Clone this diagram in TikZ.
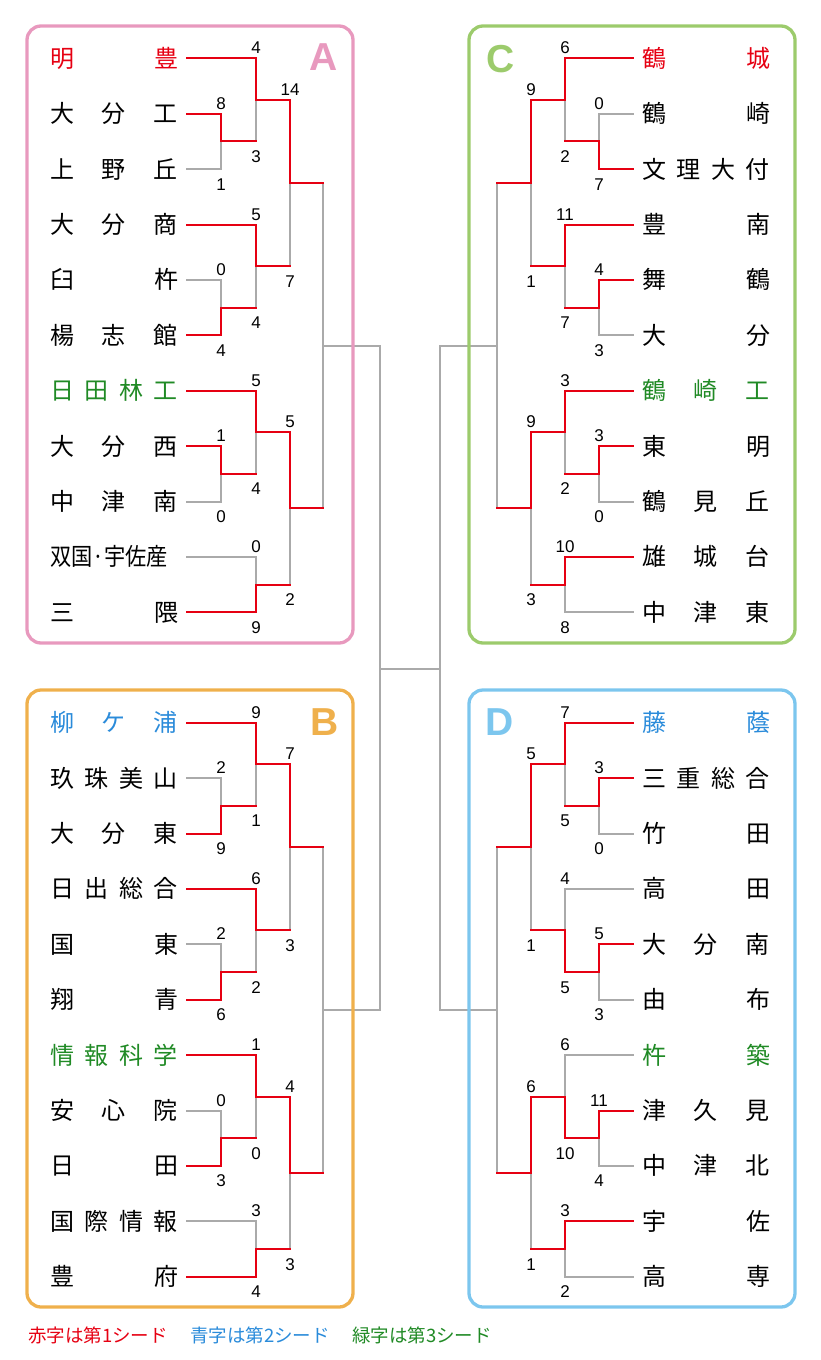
\documentclass[tikz,border=0pt]{standalone}
\usepackage{fontspec}
\setmainfont{Liberation Sans}
\newfontfamily\jpfont{Noto Sans CJK JP}
\definecolor{winred}{HTML}{E60012}
\definecolor{lgray}{HTML}{AAAAAA}
\definecolor{seedblue}{HTML}{2A8BDA}
\definecolor{seedgreen}{HTML}{208A25}
\definecolor{boxpink}{HTML}{E899BE}
\definecolor{boxorange}{HTML}{EFB04C}
\definecolor{boxgreen}{HTML}{9CCB6C}
\definecolor{boxblue}{HTML}{7CC6EE}
\pgfdeclarelayer{back}
\pgfsetlayers{back,main}
\tikzset{
  win/.style={draw=winred, line width=2pt, line cap=rect},
  lose/.style={draw=lgray, line width=2pt, line cap=rect},
  score/.style={font=\fontsize{17}{17}\selectfont, inner sep=0, anchor=base},
  teamname/.style={font=\jpfont\fontsize{24}{24}\selectfont, inner sep=0, anchor=base},
  frame/.style={line width=3.3pt, rounded corners=14pt},
  letter/.style={font=\fontsize{39}{39}\selectfont\bfseries, inner sep=0},
  legend/.style={font=\jpfont\fontsize{18.5}{18.5}\selectfont, inner sep=0, anchor=west},
}
% block geometry
\newcommand\setblock[2]{%
  \if#1L\def\Xa{187}\def\Xb{221}\def\Xc{256}\def\Xd{290}\def\Xe{323}\def\Nx{114}%
  \else\def\Xa{633}\def\Xb{599}\def\Xc{565}\def\Xd{531}\def\Xe{497}\def\Nx{706}\fi
  \pgfmathsetmacro\RowA{58.3+#2}%
  \pgfmathsetmacro\RowB{113.7+#2}%
  \pgfmathsetmacro\RowC{169.1+#2}%
  \pgfmathsetmacro\RowD{224.5+#2}%
  \pgfmathsetmacro\RowE{279.9+#2}%
  \pgfmathsetmacro\RowF{335.3+#2}%
  \pgfmathsetmacro\RowG{390.7+#2}%
  \pgfmathsetmacro\RowH{446.1+#2}%
  \pgfmathsetmacro\RowI{501.5+#2}%
  \pgfmathsetmacro\RowJ{556.9+#2}%
  \pgfmathsetmacro\RowK{612.3+#2}%
  \pgfmathsetmacro\JBC{(\RowB+\RowC)/2}%
  \pgfmathsetmacro\JA{(\RowA+\JBC)/2}%
  \pgfmathsetmacro\JEF{(\RowE+\RowF)/2}%
  \pgfmathsetmacro\JD{(\RowD+\JEF)/2}%
  \pgfmathsetmacro\JT{(\JA+\JD)/2}%
  \pgfmathsetmacro\JHI{(\RowH+\RowI)/2}%
  \pgfmathsetmacro\JG{(\RowG+\JHI)/2}%
  \pgfmathsetmacro\JJK{(\RowJ+\RowK)/2}%
  \pgfmathsetmacro\JB{(\JG+\JJK)/2}%
  \pgfmathsetmacro\JF{(\JT+\JB)/2}%
}
% team: y, first vertical x, text, colour, line style, name
\newcommand\team[6]{%
  \node[teamname, text=#4] (#6) at (\Nx,#1+9) {\hbox to 128pt{#3}};%
  \begin{pgfonlayer}{back}\draw[#5] (\Xa,#1) -- (#2,#1);\end{pgfonlayer}%
}
% match: x, next x, top y, bottom y, top score, bottom score, winner t/b, name
\newcommand\mt[8]{%
  \pgfmathsetmacro\ym{(#3+#4)/2}%
  \coordinate (#8) at (#1,\ym);%
  \if#7t%
    \begin{pgfonlayer}{back}\draw[lose] (#1,#4) -- (#8);\end{pgfonlayer}%
    \draw[win] (#1,#3) -- (#8);%
  \else
    \begin{pgfonlayer}{back}\draw[lose] (#1,#3) -- (#8);\end{pgfonlayer}%
    \draw[win] (#1,#4) -- (#8);%
  \fi
  \draw[win] (#8) -- (#2,\ym);%
  \node[score] (#8-t) at (#1,#3-4.5) {#5};%
  \node[score] (#8-b) at (#1,#4+21) {#6};%
}
\newcommand\finalgray[1]{%
  \begin{pgfonlayer}{back}\draw[lose] (\Xe,\JT) -- (\Xe,\JB);\end{pgfonlayer}%
  \coordinate (#1) at (\Xe,\JF);%
}
\begin{document}
\begin{tikzpicture}[x=1pt,y=-1pt]
\useasboundingbox (0,0) rectangle (820,1360);
% frames
\draw[frame, draw=boxpink] (27,26) rectangle (353,643);
\draw[frame, draw=boxorange] (27,690) rectangle (353,1307);
\draw[frame, draw=boxgreen] (469,26) rectangle (795,643);
\draw[frame, draw=boxblue] (469,690) rectangle (795,1307);
\node[letter, text=boxpink] (LA) at (324,57) {A};
\node[letter, text=boxorange] (LB) at (325,722) {B};
\node[letter, text=boxgreen] (LC) at (501,59) {C};
\node[letter, text=boxblue] (LD) at (500,722) {D};

% ---------- A ----------
\setblock{L}{0}
\team{\RowA}{\Xc}{明\hfill 豊}{winred}{win}{A1}
\team{\RowB}{\Xb}{大\hfill 分\hfill 工}{black}{win}{A2}
\team{\RowC}{\Xb}{上\hfill 野\hfill 丘}{black}{lose}{A3}
\team{\RowD}{\Xc}{大\hfill 分\hfill 商}{black}{win}{A4}
\team{\RowE}{\Xb}{臼\hfill 杵}{black}{lose}{A5}
\team{\RowF}{\Xb}{楊\hfill 志\hfill 館}{black}{win}{A6}
\team{\RowG}{\Xc}{日\hfill 田\hfill 林\hfill 工}{seedgreen}{win}{A7}
\team{\RowH}{\Xb}{大\hfill 分\hfill 西}{black}{win}{A8}
\team{\RowI}{\Xb}{中\hfill 津\hfill 南}{black}{lose}{A9}
\team{\RowJ}{\Xc}{\scalebox{0.885}[1]{双国·宇佐産}\hfill}{black}{lose}{A10}
\team{\RowK}{\Xc}{三\hfill 隈}{black}{win}{A11}
\finalgray{A-f}
\mt{\Xb}{\Xc}{\RowB}{\RowC}{8}{1}{t}{A-m1}
\mt{\Xc}{\Xd}{\RowA}{\JBC}{4}{3}{t}{A-m2}
\mt{\Xb}{\Xc}{\RowE}{\RowF}{0}{4}{b}{A-m3}
\mt{\Xc}{\Xd}{\RowD}{\JEF}{5}{4}{t}{A-m4}
\mt{\Xd}{\Xe}{\JA}{\JD}{14}{7}{t}{A-m5}
\mt{\Xb}{\Xc}{\RowH}{\RowI}{1}{0}{t}{A-m6}
\mt{\Xc}{\Xd}{\RowG}{\JHI}{5}{4}{t}{A-m7}
\mt{\Xc}{\Xd}{\RowJ}{\RowK}{0}{9}{b}{A-m8}
\mt{\Xd}{\Xe}{\JG}{\JJK}{5}{2}{t}{A-m9}

% ---------- B ----------
\setblock{L}{664.4}
\team{\RowA}{\Xc}{柳\hfill ケ\hfill 浦}{seedblue}{win}{B1}
\team{\RowB}{\Xb}{玖\hfill 珠\hfill 美\hfill 山}{black}{lose}{B2}
\team{\RowC}{\Xb}{大\hfill 分\hfill 東}{black}{win}{B3}
\team{\RowD}{\Xc}{日\hfill 出\hfill 総\hfill 合}{black}{win}{B4}
\team{\RowE}{\Xb}{国\hfill 東}{black}{lose}{B5}
\team{\RowF}{\Xb}{翔\hfill 青}{black}{win}{B6}
\team{\RowG}{\Xc}{情\hfill 報\hfill 科\hfill 学}{seedgreen}{win}{B7}
\team{\RowH}{\Xb}{安\hfill 心\hfill 院}{black}{lose}{B8}
\team{\RowI}{\Xb}{日\hfill 田}{black}{win}{B9}
\team{\RowJ}{\Xc}{国\hfill 際\hfill 情\hfill 報}{black}{lose}{B10}
\team{\RowK}{\Xc}{豊\hfill 府}{black}{win}{B11}
\finalgray{B-f}
\mt{\Xb}{\Xc}{\RowB}{\RowC}{2}{9}{b}{B-m1}
\mt{\Xc}{\Xd}{\RowA}{\JBC}{9}{1}{t}{B-m2}
\mt{\Xb}{\Xc}{\RowE}{\RowF}{2}{6}{b}{B-m3}
\mt{\Xc}{\Xd}{\RowD}{\JEF}{6}{2}{t}{B-m4}
\mt{\Xd}{\Xe}{\JA}{\JD}{7}{3}{t}{B-m5}
\mt{\Xb}{\Xc}{\RowH}{\RowI}{0}{3}{b}{B-m6}
\mt{\Xc}{\Xd}{\RowG}{\JHI}{1}{0}{t}{B-m7}
\mt{\Xc}{\Xd}{\RowJ}{\RowK}{3}{4}{b}{B-m8}
\mt{\Xd}{\Xe}{\JG}{\JJK}{4}{3}{t}{B-m9}

% ---------- C ----------
\setblock{R}{0}
\team{\RowA}{\Xc}{鶴\hfill 城}{winred}{win}{C1}
\team{\RowB}{\Xb}{鶴\hfill 崎}{black}{lose}{C2}
\team{\RowC}{\Xb}{文\hfill 理\hfill 大\hfill 付}{black}{win}{C3}
\team{\RowD}{\Xc}{豊\hfill 南}{black}{win}{C4}
\team{\RowE}{\Xb}{舞\hfill 鶴}{black}{win}{C5}
\team{\RowF}{\Xb}{大\hfill 分}{black}{lose}{C6}
\team{\RowG}{\Xc}{鶴\hfill 崎\hfill 工}{seedgreen}{win}{C7}
\team{\RowH}{\Xb}{東\hfill 明}{black}{win}{C8}
\team{\RowI}{\Xb}{鶴\hfill 見\hfill 丘}{black}{lose}{C9}
\team{\RowJ}{\Xc}{雄\hfill 城\hfill 台}{black}{win}{C10}
\team{\RowK}{\Xc}{中\hfill 津\hfill 東}{black}{lose}{C11}
\finalgray{C-f}
\mt{\Xb}{\Xc}{\RowB}{\RowC}{0}{7}{b}{C-m1}
\mt{\Xc}{\Xd}{\RowA}{\JBC}{6}{2}{t}{C-m2}
\mt{\Xb}{\Xc}{\RowE}{\RowF}{4}{3}{t}{C-m3}
\mt{\Xc}{\Xd}{\RowD}{\JEF}{11}{7}{t}{C-m4}
\mt{\Xd}{\Xe}{\JA}{\JD}{9}{1}{t}{C-m5}
\mt{\Xb}{\Xc}{\RowH}{\RowI}{3}{0}{t}{C-m6}
\mt{\Xc}{\Xd}{\RowG}{\JHI}{3}{2}{t}{C-m7}
\mt{\Xc}{\Xd}{\RowJ}{\RowK}{10}{8}{t}{C-m8}
\mt{\Xd}{\Xe}{\JG}{\JJK}{9}{3}{t}{C-m9}

% ---------- D ----------
\setblock{R}{664.4}
\team{\RowA}{\Xc}{藤\hfill 蔭}{seedblue}{win}{D1}
\team{\RowB}{\Xb}{三\hfill 重\hfill 総\hfill 合}{black}{win}{D2}
\team{\RowC}{\Xb}{竹\hfill 田}{black}{lose}{D3}
\team{\RowD}{\Xc}{高\hfill 田}{black}{lose}{D4}
\team{\RowE}{\Xb}{大\hfill 分\hfill 南}{black}{win}{D5}
\team{\RowF}{\Xb}{由\hfill 布}{black}{lose}{D6}
\team{\RowG}{\Xc}{杵\hfill 築}{seedgreen}{lose}{D7}
\team{\RowH}{\Xb}{津\hfill 久\hfill 見}{black}{win}{D8}
\team{\RowI}{\Xb}{中\hfill 津\hfill 北}{black}{lose}{D9}
\team{\RowJ}{\Xc}{宇\hfill 佐}{black}{win}{D10}
\team{\RowK}{\Xc}{高\hfill 専}{black}{lose}{D11}
\finalgray{D-f}
\mt{\Xb}{\Xc}{\RowB}{\RowC}{3}{0}{t}{D-m1}
\mt{\Xc}{\Xd}{\RowA}{\JBC}{7}{5}{t}{D-m2}
\mt{\Xb}{\Xc}{\RowE}{\RowF}{5}{3}{t}{D-m3}
\mt{\Xc}{\Xd}{\RowD}{\JEF}{4}{5}{b}{D-m4}
\mt{\Xd}{\Xe}{\JA}{\JD}{5}{1}{t}{D-m5}
\mt{\Xb}{\Xc}{\RowH}{\RowI}{11}{4}{t}{D-m6}
\mt{\Xc}{\Xd}{\RowG}{\JHI}{6}{10}{b}{D-m7}
\mt{\Xc}{\Xd}{\RowJ}{\RowK}{3}{2}{t}{D-m8}
\mt{\Xd}{\Xe}{\JG}{\JJK}{6}{1}{t}{D-m9}

% ---------- centre ----------
\coordinate (ML) at (380,669);
\coordinate (MR) at (440,669);
\begin{pgfonlayer}{back}
\draw[lose] (A-f) -| (ML);
\draw[lose] (B-f) -| (ML);
\draw[lose] (C-f) -| (MR);
\draw[lose] (D-f) -| (MR);
\draw[lose] (ML) -- (MR);
\end{pgfonlayer}

% ---------- legend ----------
\node[legend, text=winred] (leg1) at (28,1335) {赤字は第1シード};
\node[legend, text=seedblue] (leg2) at (190,1335) {青字は第2シード};
\node[legend, text=seedgreen] (leg3) at (352,1335) {緑字は第3シード};
\end{tikzpicture}
\end{document}
